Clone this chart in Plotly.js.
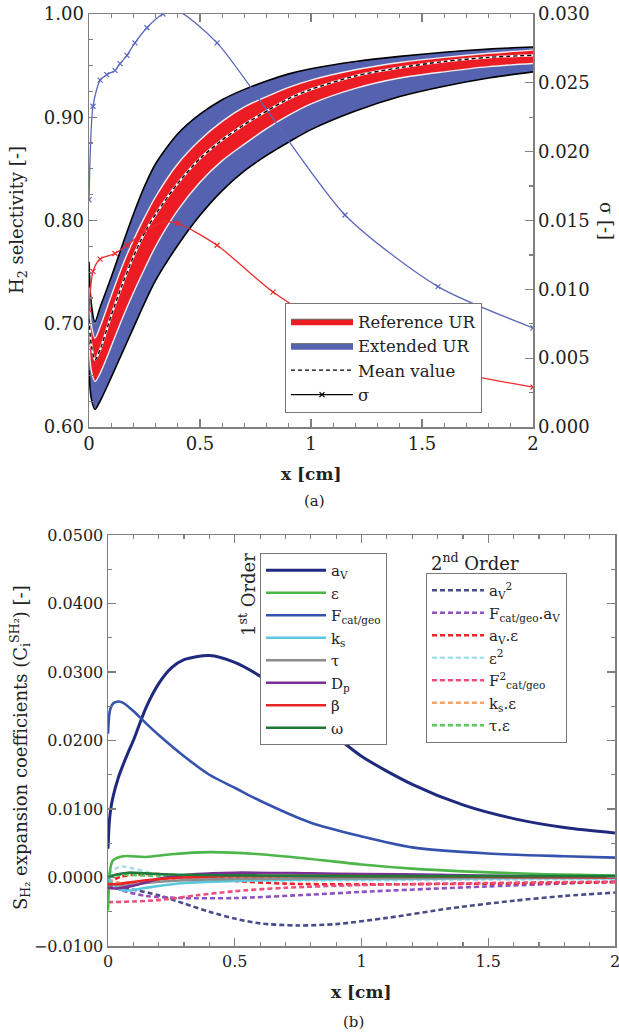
<!DOCTYPE html>
<html>
<head>
<meta charset="utf-8">
<script src="https://cdn.plot.ly/plotly-3.0.1.min.js"></script>
<style>html,body{margin:0;padding:0;background:#fff;}#chart{width:619px;height:1033px;}</style>
</head>
<body>
<div id="chart"></div>
<script>
// ---------- (a) H2 selectivity ----------
const xGrid = [0, 0.01, 0.027, 0.05, 0.1, 0.15, 0.2, 0.25, 0.3, 0.4, 0.5, 0.6, 0.7, 0.8, 0.9, 1.0, 1.2, 1.4, 1.6, 1.8, 2.0];
const extUpper = [0.76, 0.72, 0.702, 0.716, 0.745, 0.776, 0.806, 0.833, 0.855, 0.884, 0.903, 0.917, 0.927, 0.935, 0.942, 0.947, 0.954, 0.959, 0.963, 0.966, 0.968];
const refUpper = [0.735, 0.70, 0.686, 0.697, 0.727, 0.756, 0.781, 0.803, 0.823, 0.855, 0.878, 0.896, 0.910, 0.920, 0.929, 0.936, 0.946, 0.953, 0.958, 0.962, 0.965];
const meanValue = [0.705, 0.68, 0.665, 0.675, 0.708, 0.738, 0.765, 0.788, 0.806, 0.836, 0.860, 0.878, 0.893, 0.906, 0.918, 0.927, 0.940, 0.948, 0.954, 0.958, 0.960];
const refLower = [0.68, 0.655, 0.644, 0.652, 0.678, 0.705, 0.730, 0.753, 0.775, 0.810, 0.837, 0.858, 0.874, 0.889, 0.902, 0.913, 0.928, 0.938, 0.944, 0.949, 0.952];
const extLower = [0.655, 0.628, 0.617, 0.625, 0.648, 0.672, 0.696, 0.720, 0.742, 0.776, 0.805, 0.829, 0.848, 0.863, 0.876, 0.888, 0.906, 0.920, 0.930, 0.938, 0.944];

const sigmaExtX = [0, 0.018, 0.05, 0.08, 0.117, 0.14, 0.171, 0.207, 0.261, 0.333, 0.40, 0.577, 1.153, 1.572, 2.0];
const sigmaExt = [0.0165, 0.0233, 0.0252, 0.0256, 0.0259, 0.0264, 0.0270, 0.0279, 0.0290, 0.0300, 0.0302, 0.0279, 0.0154, 0.0102, 0.0072];
const sigmaRefX = [0, 0.018, 0.05, 0.117, 0.171, 0.25, 0.34, 0.40, 0.577, 0.829, 1.1, 1.4, 1.7, 2.0];
const sigmaRef = [0.0085, 0.0113, 0.0122, 0.0126, 0.0132, 0.0142, 0.0149, 0.0148, 0.0132, 0.0098, 0.0071, 0.0051, 0.0038, 0.0029];

const legendA = ['Reference UR', 'Extended UR', 'Mean value', 'σ'];

// ---------- (b) expansion coefficients ----------
const xAv = [0, 0.005, 0.01, 0.02, 0.04, 0.06, 0.08, 0.1, 0.15, 0.2, 0.25, 0.3, 0.4, 0.5, 0.6, 0.7, 0.8, 0.9, 1.0, 1.2, 1.4, 1.6, 1.8, 2.0];
const cAv = [0.0042, 0.0080, 0.0098, 0.0118, 0.0145, 0.0165, 0.0183, 0.0200, 0.0248, 0.0283, 0.0306, 0.0318, 0.0324, 0.0314, 0.0294, 0.0268, 0.0238, 0.0206, 0.0177, 0.0136, 0.0106, 0.0086, 0.0073, 0.0065];
const xF = [0, 0.005, 0.01, 0.02, 0.04, 0.06, 0.1, 0.15, 0.2, 0.3, 0.4, 0.5, 0.6, 0.8, 1.0, 1.2, 1.5, 1.8, 2.0];
const cF = [0.0210, 0.0238, 0.0247, 0.0254, 0.0257, 0.0255, 0.0243, 0.0225, 0.0208, 0.0177, 0.0150, 0.0131, 0.0112, 0.0080, 0.0060, 0.0044, 0.0035, 0.0031, 0.0029];
const xEps = [0, 0.01, 0.02, 0.06, 0.15, 0.25, 0.4, 0.6, 0.8, 1.0, 1.2, 1.4, 1.7, 2.0];
const cEps = [-0.0048, 0.0015, 0.0025, 0.0031, 0.0030, 0.0034, 0.0037, 0.0034, 0.0027, 0.0019, 0.0013, 0.0009, 0.0005, 0.0003];
const xKs = [0, 0.02, 0.05, 0.08, 0.15, 0.3, 0.5, 0.8, 1.2, 1.6, 2.0];
const cKs = [0.0, -0.0010, -0.0018, -0.0019, -0.0015, -0.0008, -0.0005, -0.0003, -0.0002, -0.0001, -0.0001];
const xTau = [0, 0.05, 0.15, 0.3, 0.5, 1.0, 2.0];
const cTau = [-0.0008, -0.0012, -0.0008, -0.0004, -0.0002, -0.0001, 0.0];
const xDp = [0, 0.03, 0.1, 0.2, 0.35, 0.5, 0.8, 1.0, 1.3, 1.6, 2.0];
const cDp = [-0.0015, -0.0016, -0.0012, -0.0002, 0.0005, 0.0007, 0.0006, 0.0005, 0.0004, 0.0002, 0.0001];
const xBeta = [0, 0.05, 0.15, 0.3, 0.5, 1.0, 1.5, 2.0];
const cBeta = [-0.0010, -0.0009, -0.0004, 0.0, 0.0002, 0.0002, 0.0001, 0.0];
const xOmega = [0, 0.03, 0.08, 0.15, 0.3, 0.6, 1.0, 1.5, 2.0];
const cOmega = [0.0, 0.0004, 0.0007, 0.0006, 0.0004, 0.0003, 0.0002, 0.0002, 0.0002];

const xAv2 = [0, 0.1, 0.2, 0.3, 0.4, 0.5, 0.6, 0.75, 0.9, 1.1, 1.35, 1.6, 1.8, 2.0];
const cAv2 = [-0.0015, -0.0018, -0.0026, -0.0038, -0.0050, -0.0060, -0.0067, -0.0070, -0.0068, -0.0059, -0.0045, -0.0034, -0.0027, -0.0022];
const xFAv = [0, 0.05, 0.15, 0.3, 0.5, 0.8, 1.0, 1.5, 2.0];
const cFAv = [-0.0010, -0.0018, -0.0027, -0.0030, -0.0030, -0.0025, -0.0021, -0.0013, -0.0006];
const xAvEps = [0, 0.05, 0.1, 0.2, 0.3, 0.4, 0.5, 0.7, 1.0, 1.5, 2.0];
const cAvEps = [-0.0008, 0.0001, 0.0004, 0.0005, 0.0002, -0.0002, -0.0005, -0.0009, -0.0010, -0.0009, -0.0007];
const xEps2 = [0, 0.03, 0.06, 0.1, 0.2, 0.35, 0.6, 1.0, 1.5, 2.0];
const cEps2 = [0.0005, 0.0013, 0.0016, 0.0013, 0.0004, -0.0002, -0.0004, -0.0004, -0.0003, -0.0002];
const xF2 = [0, 0.1, 0.2, 0.35, 0.5, 0.7, 1.0, 1.5, 2.0];
const cF2 = [-0.0036, -0.0035, -0.0033, -0.0026, -0.0020, -0.0015, -0.0011, -0.0008, -0.0006];
const xKsEps = [0, 0.05, 0.2, 0.5, 1.0, 2.0];
const cKsEps = [-0.0003, -0.0008, -0.0004, -0.0002, -0.0001, 0.0];
const xTauEps = [0, 0.05, 0.2, 0.5, 1.0, 2.0];
const cTauEps = [0.0002, 0.0004, 0.0002, 0.0001, 0.0001, 0.0];

const firstOrderNames = ['a<sub>V</sub>', 'ε', 'F<sub>cat/geo</sub>', 'k<sub>s</sub>', 'τ', 'D<sub>p</sub>', 'β', 'ω'];
const secondOrderNames = ['a<sub>V</sub><sup>2</sup>', 'F<sub>cat/geo</sub>.a<sub>V</sub>', 'a<sub>V</sub>.ε', 'ε<sup>2</sup>', 'F<sup>2</sup><sub>cat/geo</sub>', 'k<sub>s</sub>.ε', 'τ.ε'];

// ---------- styling ----------
const FONT = 'DejaVu Serif, Liberation Serif, serif';
const BLUE_BAND = '#5562b0';
const RED_BAND = '#ec1c24';
const AX = '#808080';
const W = 619, H = 1033;
const px = v => v / W, py = v => 1 - v / H;

const traces = [];
const sp = {shape: 'spline', smoothing: 0.8};
traces.push({x: xGrid, y: extLower, xaxis: 'x', yaxis: 'y', mode: 'lines', line: Object.assign({color: '#000', width: 1.6}, sp), showlegend: false, hoverinfo: 'skip'});
traces.push({x: xGrid, y: extUpper, xaxis: 'x', yaxis: 'y', mode: 'lines', fill: 'tonexty', fillcolor: BLUE_BAND, line: Object.assign({color: '#000', width: 1.6}, sp), showlegend: false, hoverinfo: 'skip'});
traces.push({x: xGrid, y: refLower, xaxis: 'x', yaxis: 'y', mode: 'lines', line: Object.assign({color: '#eeeeee', width: 1.4}, sp), showlegend: false, hoverinfo: 'skip'});
traces.push({x: xGrid, y: refUpper, xaxis: 'x', yaxis: 'y', mode: 'lines', fill: 'tonexty', fillcolor: RED_BAND, line: Object.assign({color: '#eeeeee', width: 1.4}, sp), showlegend: false, hoverinfo: 'skip'});
traces.push({x: xGrid, y: meanValue, xaxis: 'x', yaxis: 'y', mode: 'lines', line: Object.assign({color: '#ffffff', width: 2.2}, sp), showlegend: false, hoverinfo: 'skip'});
traces.push({x: xGrid, y: meanValue, xaxis: 'x', yaxis: 'y', mode: 'lines', line: Object.assign({color: '#000', width: 1.4, dash: '4px,3px'}, sp), showlegend: false, hoverinfo: 'skip'});
traces.push({x: sigmaExtX, y: sigmaExt, xaxis: 'x', yaxis: 'y2', mode: 'lines+markers', line: {color: '#5a67bb', width: 1.3, shape: 'spline', smoothing: 0.7}, marker: {symbol: 'x-thin', size: 5, line: {color: '#5a67bb', width: 1.2}}, showlegend: false});
traces.push({x: sigmaRefX, y: sigmaRef, xaxis: 'x', yaxis: 'y2', mode: 'lines+markers', line: {color: '#ee2a2a', width: 1.3, shape: 'spline', smoothing: 0.7}, marker: {symbol: 'x-thin', size: 5, line: {color: '#ee2a2a', width: 1.2}}, showlegend: false});
// legend (a)
traces.push({x: [null], y: [null], xaxis: 'x', yaxis: 'y', mode: 'lines', fill: 'toself', fillcolor: RED_BAND, line: {color: '#666', width: 1}, name: legendA[0], legend: 'legend'});
traces.push({x: [null], y: [null], xaxis: 'x', yaxis: 'y', mode: 'lines', fill: 'toself', fillcolor: BLUE_BAND, line: {color: '#666', width: 1}, name: legendA[1], legend: 'legend'});
traces.push({x: [null], y: [null], xaxis: 'x', yaxis: 'y', mode: 'lines', line: {color: '#000', width: 1.3, dash: '4px,3px'}, name: legendA[2], legend: 'legend'});
traces.push({x: [null], y: [null], xaxis: 'x', yaxis: 'y', mode: 'lines+markers', line: {color: '#000', width: 1.3}, marker: {symbol: 'x-thin', size: 5, line: {color: '#000', width: 1.2}}, name: legendA[3], legend: 'legend'});

const firstSeries = [
  [xAv, cAv, '#1f2a7e', 3],
  [xEps, cEps, '#4cb648', 2.6],
  [xF, cF, '#3553ad', 2.6],
  [xKs, cKs, '#5cc8dc', 2.6],
  [xTau, cTau, '#8c8c8c', 2.6],
  [xDp, cDp, '#7c2e94', 2.6],
  [xBeta, cBeta, '#e8262a', 2.6],
  [xOmega, cOmega, '#1d7a3a', 2.6]
];
const secondSeries = [
  [xAv2, cAv2, '#4b4b88'],
  [xFAv, cFAv, '#8f50c0'],
  [xAvEps, cAvEps, '#ee2222'],
  [xEps2, cEps2, '#a9dfea'],
  [xF2, cF2, '#ee4f7c'],
  [xKsEps, cKsEps, '#f5a46a'],
  [xTauEps, cTauEps, '#5cc95c']
];
secondSeries.forEach((s, i) => {
  traces.push({x: s[0], y: s[1], xaxis: 'x2', yaxis: 'y3', mode: 'lines', line: Object.assign({color: s[2], width: 2.6, dash: '5px,3px'}, sp), name: secondOrderNames[i], legend: 'legend3'});
});
firstSeries.forEach((s, i) => {
  traces.push({x: s[0], y: s[1], xaxis: 'x2', yaxis: 'y3', mode: 'lines', line: Object.assign({color: s[2], width: s[3]}, sp), name: firstOrderNames[i], legend: 'legend2'});
});

const tickFontA = {family: FONT, size: 18, color: '#222'};
const tickFontB = {family: FONT, size: 16, color: '#222'};
const common = {showgrid: false, zeroline: false, showline: true, linecolor: AX, linewidth: 1.5, ticks: 'inside', tickcolor: AX, tickwidth: 1.2, ticklen: 8, ticklabeloverflow: 'allow'};
const minorT = d => ({dtick: d, ticklen: 4, tickcolor: AX, ticks: 'inside'});

const ann = (x, y, text, size, angle) => ({xref: 'paper', yref: 'paper', x: px(x), y: py(y), xanchor: 'center', yanchor: 'middle', text: text, textangle: angle || 0, showarrow: false, font: {family: FONT, size: size, color: '#222'}});

const legendBase = {xanchor: 'left', yanchor: 'top', bgcolor: '#fff', bordercolor: '#777', borderwidth: 1, traceorder: 'normal', tracegroupgap: 0};

const layout = {
  width: W, height: H,
  margin: {l: 0, r: 0, t: 0, b: 0},
  paper_bgcolor: '#fff', plot_bgcolor: '#fff',
  font: {family: FONT, color: '#222'},
  xaxis: Object.assign({}, common, {domain: [px(89), px(533)], anchor: 'y', range: [0, 2], dtick: 0.5, tick0: 0, mirror: 'ticks', tickfont: tickFontA, minor: minorT(0.1)}),
  yaxis: Object.assign({}, common, {domain: [py(427), py(14)], anchor: 'x', range: [0.6, 1.0], dtick: 0.1, tick0: 0.6, tickformat: '.2f', tickfont: tickFontA, minor: minorT(0.025)}),
  yaxis2: Object.assign({}, common, {overlaying: 'y', side: 'right', anchor: 'x', range: [0, 0.03], dtick: 0.005, tick0: 0, tickformat: '.3f', tickfont: tickFontA, minor: minorT(0.0025)}),
  xaxis2: Object.assign({}, common, {domain: [px(108), px(615)], anchor: 'y3', range: [0, 2], dtick: 0.5, tick0: 0, mirror: 'ticks', tickfont: tickFontB, minor: minorT(0.1)}),
  yaxis3: Object.assign({}, common, {domain: [py(946), py(535)], anchor: 'x2', range: [-0.01, 0.05], dtick: 0.01, tick0: 0, tickformat: '.4f', mirror: 'ticks', tickfont: tickFontB, minor: minorT(0.005)}),
  legend: Object.assign({}, legendBase, {x: px(285), y: py(303), font: {family: FONT, size: 16.5, color: '#222'}, itemwidth: 62}),
  legend2: Object.assign({}, legendBase, {x: px(260), y: py(553), font: {family: FONT, size: 15, color: '#222'}, itemwidth: 60}),
  legend3: Object.assign({}, legendBase, {x: px(426), y: py(573), font: {family: FONT, size: 15, color: '#222'}, itemwidth: 52}),
  showlegend: true,
  annotations: [
    ann(18, 220, 'H<sub>2</sub> selectivity [-]', 18, -90),
    ann(606, 221, 'σ [-]', 18, 90),
    ann(311, 474, '<b>x [cm]</b>', 17),
    ann(314, 501, '(a)', 15),
    ann(20, 748, 'S<sub>H₂</sub> expansion coefficients (C<sub>i</sub><sup>SH₂</sup>) [-]', 18, -90),
    ann(247, 595, '1<sup>st</sup> Order', 18, -90),
    ann(475, 562, '2<sup>nd</sup> Order', 18),
    ann(361, 992, '<b>x [cm]</b>', 17),
    ann(353, 1022, '(b)', 15)
  ]
};

Plotly.newPlot('chart', traces, layout, {displayModeBar: false, staticPlot: true});
</script>
</body>
</html>
